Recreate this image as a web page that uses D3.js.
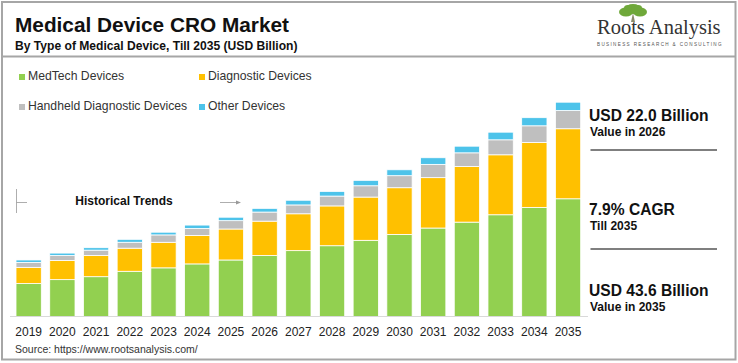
<!DOCTYPE html>
<html>
<head>
<meta charset="utf-8">
<script src="https://cdn.jsdelivr.net/npm/d3@7"></script>
<style>
  html, body { margin: 0; padding: 0; background: #fff; }
  svg { display: block; font-family: 'Liberation Sans', Arial, sans-serif; }
</style>
</head>
<body>
<div id="chart"></div>
<script>
'use strict';

var years = ['2019', '2020', '2021', '2022', '2023', '2024', '2025', '2026', '2027',
             '2028', '2029', '2030', '2031', '2032', '2033', '2034', '2035'];
var medtech    = [6.7, 7.5, 8.1, 9.2, 9.9, 10.7, 11.5, 12.4, 13.4, 14.4, 15.5, 16.7, 18.0, 19.2, 20.7, 22.2, 23.95];
var diagnostic = [3.3, 3.9, 4.3, 4.7, 5.2, 5.8, 6.3, 7.0, 7.5, 8.1, 8.8, 9.5, 10.25, 11.3, 12.2, 13.2, 14.25];
var handheld   = [1.0, 1.0, 1.1, 1.2, 1.5, 1.4, 1.7, 1.85, 1.8, 2.0, 2.3, 2.45, 2.7, 2.8, 3.05, 3.4, 3.7];
var other      = [0.5, 0.5, 0.5, 0.6, 0.55, 0.7, 0.7, 0.75, 0.95, 0.95, 1.1, 1.2, 1.35, 1.35, 1.55, 1.65, 1.7];

var seriesNames = ['MedTech Devices', 'Diagnostic Devices', 'Handheld Diagnostic Devices', 'Other Devices'];
var colors = ['#92d050', '#ffc000', '#bfbfbf', '#4dc3ea'];

var W = 738, H = 363;

var svg = d3.select('#chart').append('svg')
    .attr('width', W)
    .attr('height', H);

svg.append('rect').attr('width', W).attr('height', H).attr('fill', '#fff');

// frame
svg.append('rect')
    .attr('x', 2).attr('y', 2).attr('width', W - 4.5).attr('height', H - 5.5)
    .attr('fill', 'none').attr('stroke', '#a6a6a6').attr('stroke-width', 2);

// header
svg.append('text').attr('x', 15).attr('y', 31.5)
    .attr('font-size', 20.8).attr('font-weight', 'bold').attr('fill', '#111')
    .text('Medical Device CRO Market');
svg.append('text').attr('x', 15).attr('y', 49.5)
    .attr('font-size', 12.1).attr('font-weight', 'bold').attr('fill', '#111')
    .text('By Type of Medical Device, Till 2035 (USD Billion)');
svg.append('line').attr('x1', 2).attr('x2', W - 2).attr('y1', 56.5).attr('y2', 56.5)
    .attr('stroke', '#a6a6a6').attr('stroke-width', 2);

// logo
var logo = svg.append('g');
logo.append('path')
    .attr('d', 'M631,22 L633,13 L635,22 Z').attr('fill', '#8a8a6a');
[[626, 12, 7, 4.5], [640, 12, 7, 4.5], [633, 9, 8, 5], [628, 8, 4, 3], [638, 8, 4, 3]].forEach(function (e) {
    logo.append('ellipse').attr('cx', e[0]).attr('cy', e[1]).attr('rx', e[2]).attr('ry', e[3])
        .attr('fill', '#6fa83a');
});
logo.append('text').attr('x', 597).attr('y', 33.5)
    .attr('font-family', "'Liberation Serif', 'Times New Roman', serif")
    .attr('font-size', 20.5).attr('fill', '#333')
    .text('Roots Analysis');
logo.append('text').attr('x', 597).attr('y', 46)
    .attr('font-size', 4.6).attr('letter-spacing', 1.35).attr('fill', '#555')
    .text('BUSINESS RESEARCH & CONSULTING');

// legend
var legendPos = [[19, 80], [199, 80], [19, 110], [199, 110]];
var legend = svg.append('g').selectAll('g')
    .data(seriesNames)
    .enter().append('g')
    .attr('transform', function (d, i) {
        return 'translate(' + legendPos[i][0] + ',' + legendPos[i][1] + ')';
    });
legend.append('rect').attr('x', 0).attr('y', -6).attr('width', 6).attr('height', 6)
    .attr('fill', function (d, i) { return colors[i]; });
legend.append('text').attr('x', 9).attr('y', 0)
    .attr('font-size', 12.2).attr('fill', '#333')
    .text(function (d) { return d; });

// chart
var baseY = 316.5;
var x = d3.scaleBand()
    .domain(years)
    .range([11.8, 584.9])
    .paddingInner(0.25)
    .paddingOuter(0.125);
var y = d3.scaleLinear()
    .domain([0, 43.6])
    .range([baseY, baseY - 214.3]);

var table = years.map(function (yr, i) {
    return { year: yr, s0: medtech[i], s1: diagnostic[i], s2: handheld[i], s3: other[i] };
});
var stack = d3.stack().keys(['s0', 's1', 's2', 's3']);
var layers = stack(table);

svg.append('g').selectAll('g')
    .data(layers)
    .enter().append('g')
    .attr('fill', function (d, i) { return colors[i]; })
    .selectAll('rect')
    .data(function (d) { return d; })
    .enter().append('rect')
    .attr('x', function (d) { return x(d.data.year); })
    .attr('y', function (d) { return y(d[1]); })
    .attr('width', x.bandwidth())
    .attr('height', function (d) { return y(d[0]) - y(d[1]); })
    .attr('stroke', '#fff')
    .attr('stroke-width', 0.8);

// baseline
svg.append('line').attr('x1', 10).attr('x2', 588).attr('y1', baseY).attr('y2', baseY)
    .attr('stroke', '#d9d9d9').attr('stroke-width', 1);

// year labels
svg.append('g').selectAll('text')
    .data(years)
    .enter().append('text')
    .attr('x', function (d) { return x(d) + x.bandwidth() / 2; })
    .attr('y', 335.5)
    .attr('text-anchor', 'middle')
    .attr('font-size', 12).attr('fill', '#222')
    .text(function (d) { return d; });

svg.append('text').attr('x', 15).attr('y', 352.5)
    .attr('font-size', 10.5).attr('fill', '#333')
    .text('Source: https://www.rootsanalysis.com/');

// historical trends marker
var ht = svg.append('g').attr('stroke', '#999').attr('stroke-width', 0.8);
ht.append('line').attr('x1', 16.5).attr('x2', 16.5).attr('y1', 189).attr('y2', 213);
ht.append('line').attr('x1', 16.5).attr('x2', 27).attr('y1', 202.5).attr('y2', 202.5);
ht.append('line').attr('x1', 220).attr('x2', 239).attr('y1', 202.5).attr('y2', 202.5);
svg.append('path').attr('d', 'M236,200.5 L241,202.5 L236,204.5 Z').attr('fill', '#999');
svg.append('text').attr('x', 124).attr('y', 205)
    .attr('text-anchor', 'middle')
    .attr('font-size', 12).attr('font-weight', 'bold').attr('fill', '#111')
    .text('Historical Trends');

// right annotations
var notes = [
    { big: 'USD 22.0 Billion', small: 'Value in 2026', y: 120.7 },
    { big: '7.9% CAGR', small: 'Till 2035', y: 215 },
    { big: 'USD 43.6 Billion', small: 'Value in 2035', y: 296 }
];
var ann = svg.append('g').selectAll('g')
    .data(notes)
    .enter().append('g');
ann.append('text').attr('x', 589).attr('y', function (d) { return d.y; })
    .attr('font-size', 15.6).attr('font-weight', 'bold').attr('fill', '#111')
    .text(function (d) { return d.big; });
ann.append('text').attr('x', 590).attr('y', function (d) { return d.y + 15; })
    .attr('font-size', 12).attr('font-weight', 'bold').attr('fill', '#111')
    .text(function (d) { return d.small; });

[150, 249].forEach(function (ly) {
    svg.append('line').attr('x1', 590.5).attr('x2', 717).attr('y1', ly).attr('y2', ly)
        .attr('stroke', '#7f7f7f').attr('stroke-width', 2);
});
</script>
</body>
</html>
